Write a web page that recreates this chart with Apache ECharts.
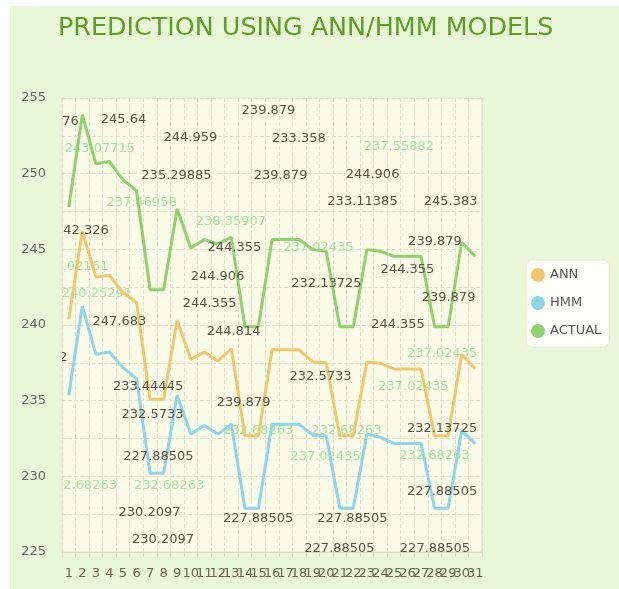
<!DOCTYPE html>
<html><head><meta charset="utf-8">
<script src="https://cdn.jsdelivr.net/npm/echarts@6/dist/echarts.min.js"></script>
<style>
html,body{margin:0;padding:0;background:#fff}
#c{width:619px;height:589px;background:linear-gradient(#e8f7d8,#e8f7d8) no-repeat 10px 6px / 609px 583px, #fff;}
</style>
</head><body><div id="c"></div>
<script>
const categories = ['1','2','3','4','5','6','7','8','9','10','11','12','13','14','15','16','17','18','19','20','21','22','23','24','25','26','27','28','29','30','31'];
const seriesNames = ['ANN','HMM','ACTUAL'];
const annValues = [240.37, 246.19, 243.18, 243.27, 242.15, 241.49, 235.1, 235.1, 240.32, 237.73, 238.21, 237.62, 238.43, 232.68263, 232.68263, 238.35907, 238.35907, 238.35907, 237.55882, 237.51, 232.68263, 232.68263, 237.55882, 237.46958, 237.1, 237.1, 237.1, 232.68263, 232.68263, 238.06, 237.1];
const hmmValues = [235.36, 241.24, 238.06, 238.21, 237.18, 236.46, 230.2097, 230.2097, 235.36, 232.79, 233.358, 232.79, 233.44445, 227.88505, 227.88505, 233.44, 233.44, 233.44, 232.72, 232.68263, 227.88505, 227.88505, 232.79, 232.5733, 232.17, 232.17, 232.17, 227.88505, 227.88505, 233.0, 232.14];
const actualValues = [247.8, 253.9, 250.65, 250.8, 249.6, 248.87, 242.326, 242.326, 247.683, 245.09, 245.64, 245.36, 245.79, 239.879, 239.879, 245.65, 245.65, 245.65, 244.98, 244.87, 239.879, 239.879, 244.98, 244.87, 244.54, 244.54, 244.54, 239.879, 239.879, 245.46, 244.54];

// floating value annotations (x in category units, y in value units)
const darkLabelText = ['76','245.64','244.959','235.29885','42.326','244.355','239.879','233.358','239.879','244.906','233.11385','245.383','239.879','244.906','244.355','247.683','244.814','2','233.44445','239.879','244.355','232.13725','239.879','244.355','232.5733','232.5733','227.88505','230.2097','230.2097','227.88505','227.88505','227.88505','227.88505','232.13725','227.88505'];
const darkLabelX = [1.13,5.04,9.98,8.95,2.27,13.23,15.74,17.99,16.63,23.42,22.68,29.18,28.03,11.98,11.39,4.74,13.16,0.61,6.85,13.90,26.00,20.02,29.03,25.30,19.58,7.18,7.62,6.96,7.96,14.97,21.94,20.98,28.03,28.55,28.55];
const darkLabelY = [253.42,253.55,252.36,249.86,246.23,245.11,254.14,252.30,249.86,249.92,248.14,248.14,245.51,243.20,241.42,240.23,239.57,237.86,235.95,234.89,243.66,242.74,241.82,240.04,236.61,234.10,231.27,227.58,225.80,227.18,227.18,225.20,225.20,233.18,228.96];
const lightLabelText = ['243.07715','237.46958','238.35907','237.55882','237.02435','.02161','240.25291','237.02435','237.02435','2.68263','232.68263','232.68263','232.68263','237.02435','232.68263'];
const lightLabelX = [3.30,6.37,12.97,25.37,19.43,2.23,3.08,28.55,26.44,2.57,8.40,14.97,21.50,19.95,27.99];
const lightLabelY = [251.64,248.08,246.83,251.77,245.11,243.86,242.08,238.12,235.95,229.36,229.36,233.05,233.05,231.27,231.34];

const FONT = '"DejaVu Sans", Verdana, sans-serif';
function labelSeries(name, texts, xs, ys, color, z) {
  return {
    type: 'custom', name: name, xAxisIndex: 1, yAxisIndex: 0, clip: true, silent: true, z: z,
    data: texts.map((t, i) => [xs[i], ys[i], i]),
    encode: { x: 0, y: 1 },
    renderItem: function (params, api) {
      const p = api.coord([api.value(0), api.value(1)]);
      const i = api.value(2);
      return {
        type: 'text', x: p[0], y: p[1],
        style: {
          text: texts[i], fill: color, font: '13px ' + FONT,
          align: 'center', verticalAlign: 'middle',
          textAlign: 'center', textVerticalAlign: 'middle'
        }
      };
    }
  };
}

const chart = echarts.init(document.getElementById('c'), null, { renderer: 'canvas' });
const lineColors = { ANN: '#f2c66c', HMM: '#8fd5e8', ACTUAL: '#8ed16e' };
function lineSeries(name, data) {
  return {
    type: 'line', name: name, data: data, symbol: 'none', z: 2,
    lineStyle: { width: 3, color: lineColors[name] },
    itemStyle: { color: lineColors[name] }
  };
}
chart.setOption({
  backgroundColor: 'transparent',
  animation: false,
  title: {
    text: 'PREDICTION USING ANN/HMM MODELS', left: 58, top: 16, padding: 0,
    textStyle: { fontFamily: FONT, fontSize: 25.4, fontWeight: 'normal', color: '#5e9e22' }
  },
  legend: {
    data: seriesNames, orient: 'vertical', left: 526, top: 260,
    icon: 'circle', itemWidth: 14, itemHeight: 14, itemGap: 14,
    padding: [8, 8, 9, 5], backgroundColor: '#fdfef9', borderRadius: 6,
    borderColor: '#e3e9d5', borderWidth: 1,
    textStyle: { fontFamily: FONT, fontSize: 13, color: '#555' }
  },
  grid: {
    left: 62, top: 98, width: 420, height: 454, show: true,
    backgroundColor: '#fafce8', borderColor: '#e2e2cc', borderWidth: 1
  },
  xAxis: [{
    type: 'category', data: categories, boundaryGap: true,
    axisLine: { show: true, lineStyle: { color: '#ddd9c4' } },
    axisTick: { show: true, interval: 0, length: 5, lineStyle: { color: '#ddd9c4' } },
    axisLabel: { interval: 0, margin: 15, fontFamily: FONT, fontSize: 13, color: '#6d6452' },
    splitLine: { show: true, interval: 0, lineStyle: { color: '#e2e2cc', type: 'dashed', width: 1 } }
  }, {
    type: 'value', min: 0.5, max: 31.5, show: false
  }],
  yAxis: {
    type: 'value', min: 225, max: 255, interval: 2.5,
    axisLine: { show: false }, axisTick: { show: false },
    axisLabel: {
      margin: 16, fontFamily: FONT, fontSize: 13, color: '#6a6a6a',
      formatter: function (v) { return (v % 5 === 0) ? String(v) : ''; }
    },
    splitLine: { show: true, lineStyle: { color: '#e2e2cc', type: 'dashed', width: 1 } }
  },
  series: [
    labelSeries('light', lightLabelText, lightLabelX, lightLabelY, '#a6e3a4', 1),
    lineSeries('ANN', annValues),
    lineSeries('HMM', hmmValues),
    lineSeries('ACTUAL', actualValues),
    labelSeries('dark', darkLabelText, darkLabelX, darkLabelY, '#5b5446', 3)
  ]
});
</script>
</body></html>
